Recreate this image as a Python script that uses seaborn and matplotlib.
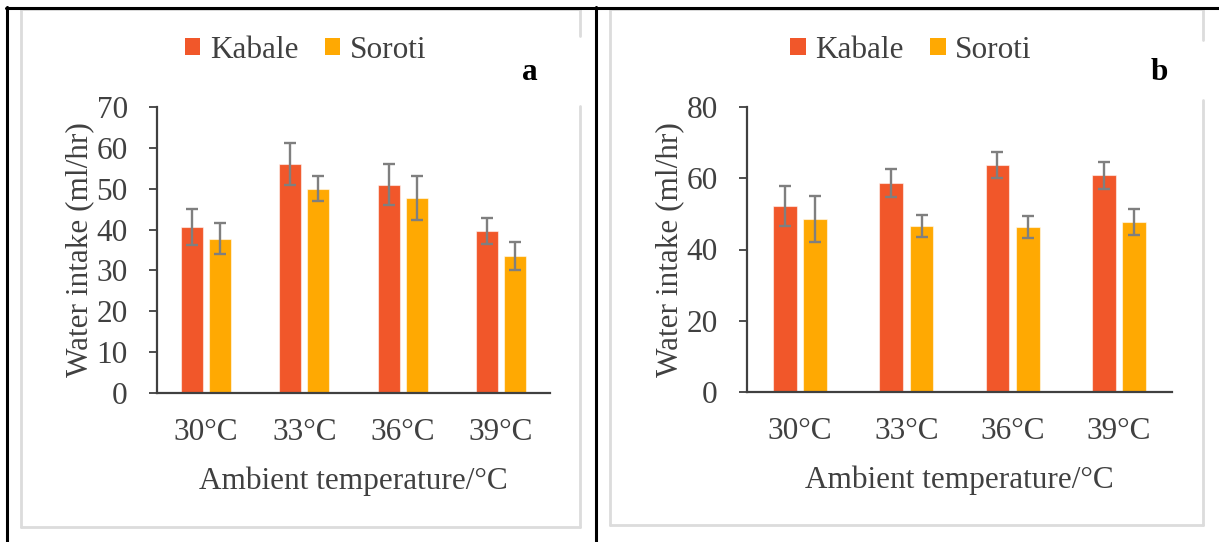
import matplotlib
matplotlib.use("Agg")
import matplotlib.pyplot as plt
from matplotlib.lines import Line2D
from matplotlib.patches import Patch
import seaborn as sns
import pandas as pd

# ---- data ----
temperatures = ["30°C", "33°C", "36°C", "39°C"]
sites = ["Kabale", "Soroti"]

a_kabale = [40.6, 56.1, 51.0, 39.7]
a_kabale_err = [4.4, 5.2, 5.0, 3.2]
a_soroti = [37.8, 50.0, 47.8, 33.5]
a_soroti_err = [3.9, 3.1, 5.4, 3.5]

b_kabale = [52.2, 58.7, 63.8, 60.9]
b_kabale_err = [5.6, 3.9, 3.7, 3.8]
b_soroti = [48.6, 46.7, 46.3, 47.8]
b_soroti_err = [6.5, 3.1, 3.1, 3.7]

a_yticks = [0, 10, 20, 30, 40, 50, 60, 70]
b_yticks = [0, 20, 40, 60, 80]

colors = ["#F1572A", "#FFA902"]
text_color = "#404040"
FS = 22.5

sns.set_theme(style="white")
plt.rcParams["font.family"] = ["Liberation Serif", "DejaVu Serif"]

W, H = 1219, 542
fig = plt.figure(figsize=(W / 100, H / 100), dpi=100)


def fx(px):
    return px / W


def fy(py):
    return 1 - py / H


def make_df(k, s):
    rows = []
    for t, v in zip(temperatures, k):
        rows.append({"temp": t, "site": "Kabale", "value": v})
    for t, v in zip(temperatures, s):
        rows.append({"temp": t, "site": "Soroti", "value": v})
    return pd.DataFrame(rows)


def draw_panel(rect, k, ke, s, se, yticks, ymax, letter, letter_xy, legend_xy):
    ax = fig.add_axes(rect)
    df = make_df(k, s)
    sns.barplot(data=df, x="temp", y="value", hue="site", order=temperatures,
                hue_order=sites, palette=colors, width=0.57, gap=0.21,
                errorbar=None, legend=False, ax=ax, saturation=1,
                edgecolor=(1, 1, 1, 0.55), linewidth=0.8)
    for cont, errs in zip(ax.containers, [ke, se]):
        xs = [b.get_x() + b.get_width() / 2 for b in cont]
        hs = [b.get_height() for b in cont]
        ax.errorbar(xs, hs, yerr=errs, fmt="none", ecolor="#7F7F7F",
                    elinewidth=1.7, capsize=4.3, capthick=1.7, zorder=5)
    ax.set_ylim(0, ymax)
    ax.set_xlim(-0.5, 3.5)
    ax.set_yticks(yticks)
    ax.set_yticklabels([str(v) for v in yticks])
    ax.set_xlabel("Ambient temperature/°C", fontsize=FS, color=text_color, labelpad=14)
    ax.set_ylabel("Water intake (ml/hr)", fontsize=FS, color=text_color, labelpad=1.5)
    for sp in ["top", "right"]:
        ax.spines[sp].set_visible(False)
    for sp in ["left", "bottom"]:
        ax.spines[sp].set_color("#404040")
        ax.spines[sp].set_linewidth(1.6)
    ax.tick_params(axis="y", which="major", left=True, length=6, width=1.3,
                   color="#404040", labelsize=FS, labelcolor=text_color, pad=15)
    ax.tick_params(axis="x", which="major", bottom=False, length=0,
                   labelsize=FS, labelcolor=text_color, pad=18)
    ax.set_facecolor("white")
    fig.text(fx(letter_xy[0]), fy(letter_xy[1]), letter, fontsize=FS, fontweight="bold",
             color="black", ha="center", va="center")
    handles = [Patch(facecolor=c, edgecolor="none") for c in colors]
    fig.legend(handles, sites, loc="center", bbox_to_anchor=(fx(legend_xy[0]), fy(legend_xy[1])),
               ncol=2, frameon=False, fontsize=FS, labelcolor=text_color,
               handlelength=0.5, handleheight=0.5, handletextpad=0.3,
               columnspacing=0.85, borderpad=0, borderaxespad=0)
    return ax


# panel frames (grey) and table lines (black)
grey = "#DCDCDC"


def grey_box(x0, y0, x1, y1, gap=None):
    segs = [((x0, y0), (x1, y0)), ((x0, y0), (x0, y1)), ((x0, y1), (x1, y1))]
    if gap:
        segs.append(((x1, y0), (x1, gap[0])))
        segs.append(((x1, gap[1]), (x1, y1)))
    else:
        segs.append(((x1, y0), (x1, y1)))
    for (a, b) in segs:
        fig.add_artist(Line2D([fx(a[0]), fx(b[0])], [fy(a[1]), fy(b[1])],
                              color=grey, lw=2, transform=fig.transFigure, zorder=0))


grey_box(21, 9, 580, 527, gap=(36, 106))
grey_box(610, 9, 1203, 525, gap=(40, 100))

for (a, b) in [((6, 7.5), (1219, 7.5)), ((6.5, 7), (6.5, 542)), ((596, 7), (596, 542))]:
    fig.add_artist(Line2D([fx(a[0]), fx(b[0])], [fy(a[1]), fy(b[1])],
                          color="black", lw=2.2, transform=fig.transFigure, zorder=1))

draw_panel([fx(157), fy(393), fx(550) - fx(157), fy(107) - fy(393)],
           a_kabale, a_kabale_err, a_soroti, a_soroti_err, a_yticks, 70,
           "a", (530, 72), (305.5, 50))
draw_panel([fx(747), fy(392), fx(1172) - fx(747), fy(107) - fy(392)],
           b_kabale, b_kabale_err, b_soroti, b_soroti_err, b_yticks, 80,
           "b", (1159, 72), (911, 50))

fig.savefig("out.png", dpi=100, facecolor="white")
